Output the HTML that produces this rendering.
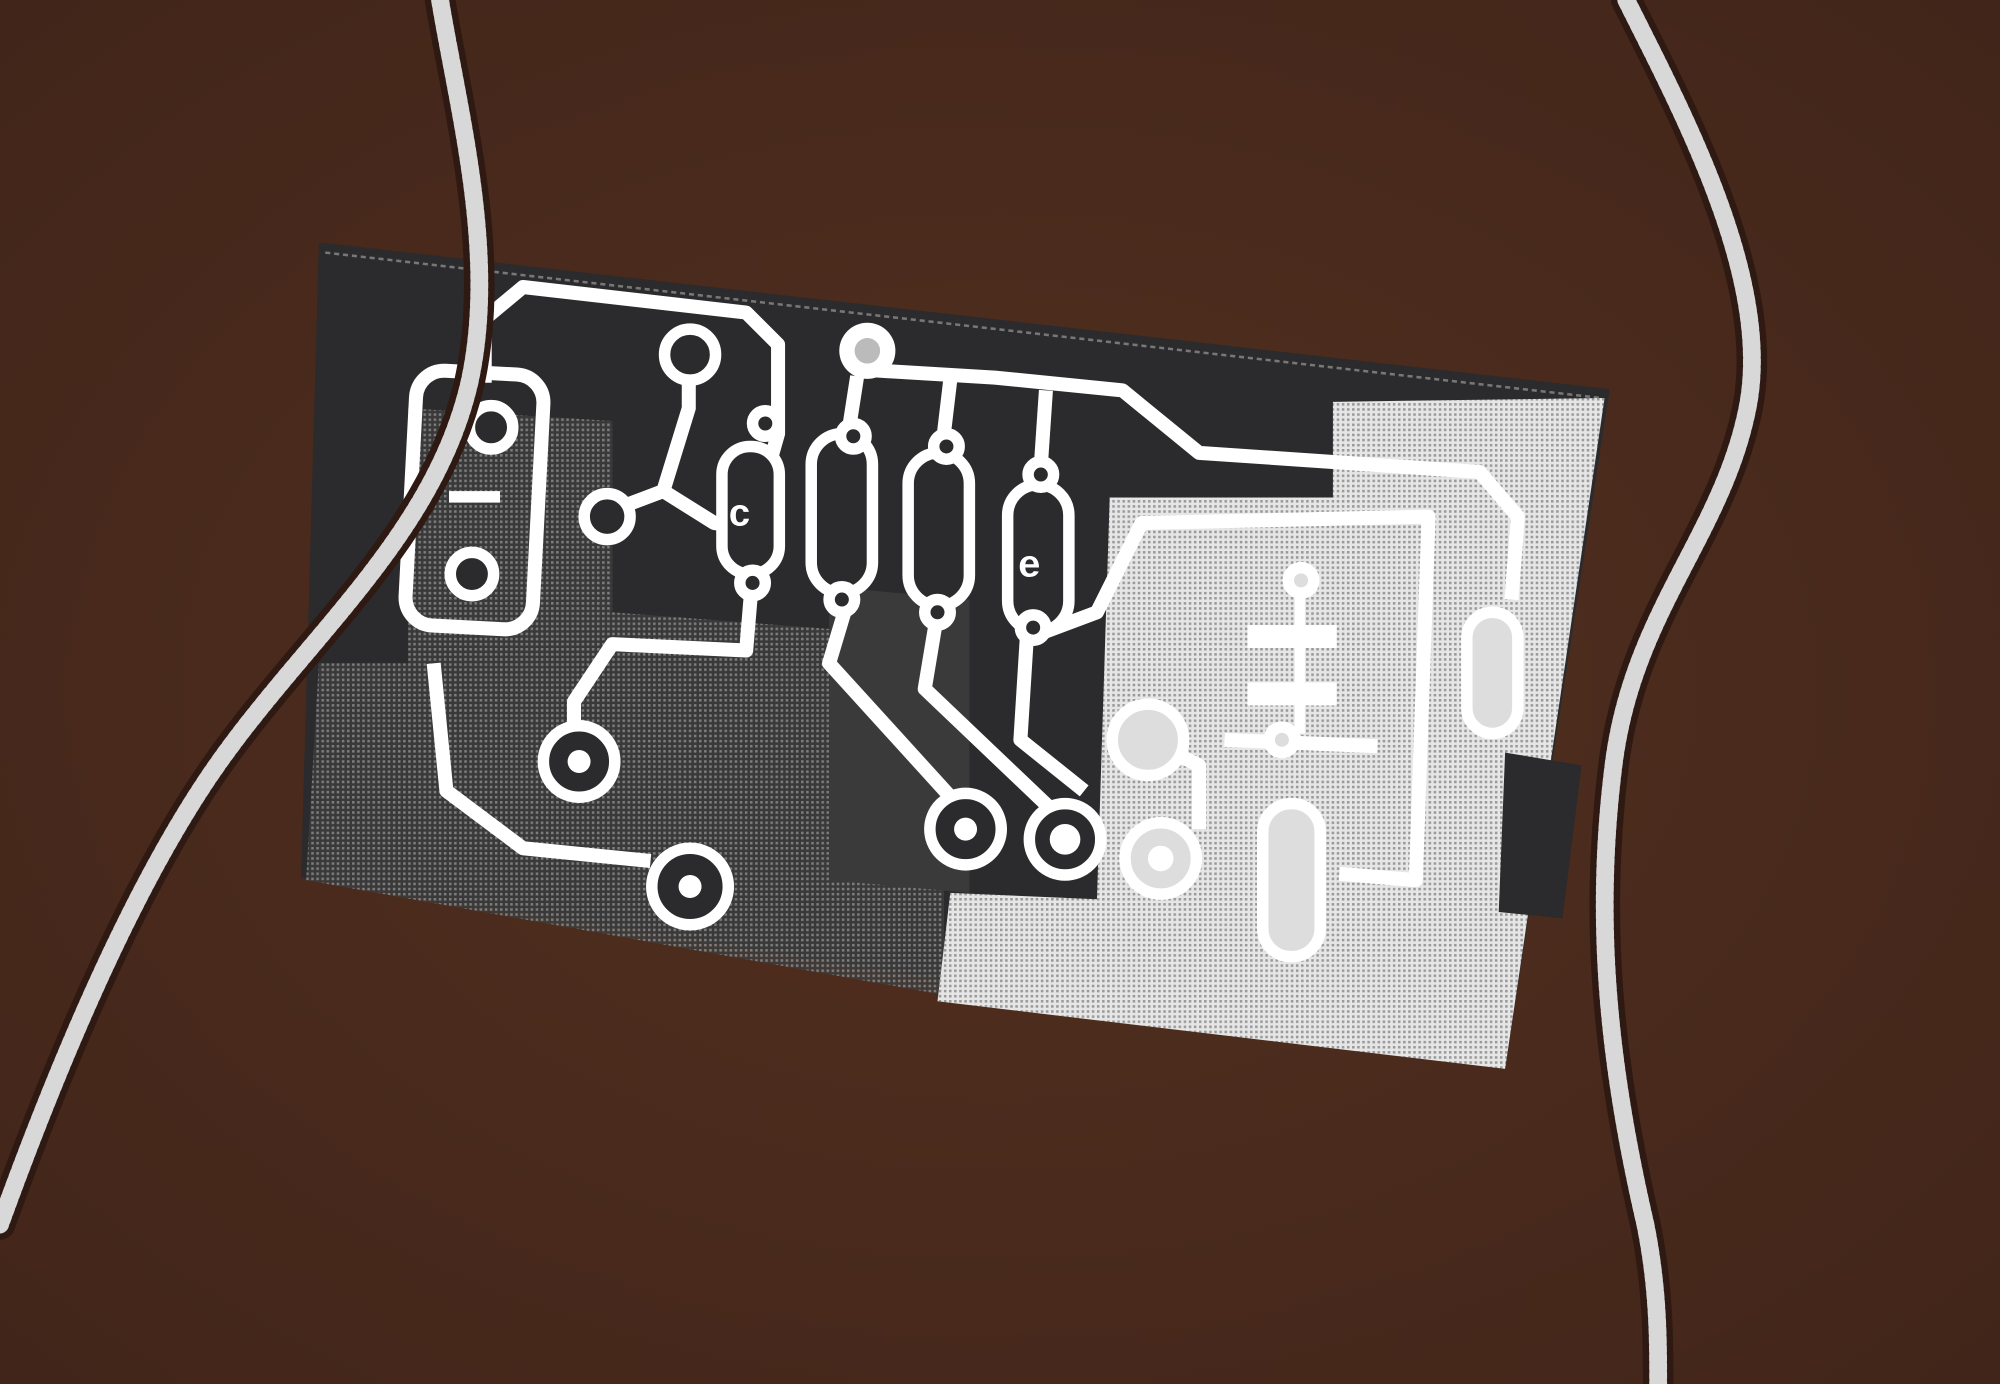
<!DOCTYPE html>
<html><head><meta charset="utf-8"><style>
html,body{margin:0;padding:0;background:#4a2b1d;}
svg{display:block;}
</style></head><body>
<svg width="2000" height="1384" viewBox="0 0 1568 1085" xmlns="http://www.w3.org/2000/svg">
<defs>
<radialGradient id="bg" cx="50%" cy="50%" r="70%">
<stop offset="0" stop-color="#52301f"/><stop offset="1" stop-color="#42251a"/>
</radialGradient>
<pattern id="dots" width="4" height="4" patternUnits="userSpaceOnUse"><rect width="4" height="4" fill="#3c3c3c"/><rect width="2" height="2" fill="#8a8a8a"/></pattern>
<pattern id="ldots" width="4" height="4" patternUnits="userSpaceOnUse"><rect width="4" height="4" fill="#e6e6e6"/><rect width="2" height="2" fill="#9a9a9a"/></pattern>
</defs>
<rect width="1568" height="1085" fill="url(#bg)"/>
<g>
<polygon points="250,190 1262,305 1180,838 236,688" fill="#2b2b2d"/>
<polyline points="255,198 1255,312" stroke="#777" stroke-width="2" stroke-dasharray="4,3" fill="none"/>
<polygon points="320,320 480,330 480,480 740,500 740,780 240,690 250,520 320,520" fill="url(#dots)" opacity="0.85"/>
<polygon points="650,460 760,470 760,700 650,690" fill="#3a3a3a"/>
<polygon points="1045,315 1258,312 1180,838 735,785 745,700 860,705 870,390 1045,390" fill="url(#ldots)"/>
<polygon points="1180,590 1240,600 1225,720 1175,715" fill="#2b2b2d"/>
<g stroke="#fff" stroke-width="11" fill="none" stroke-linejoin="round">
<path d="M380,300 L380,250 L410,225 L585,245 L610,270 L610,340 L600,375"/>
<rect x="322" y="292" width="100" height="200" rx="22" transform="rotate(3 372 392)"/>
<path d="M480,400 L520,385 L540,320 L540,300"/>
<path d="M520,385 L560,410 L575,412"/>
<path d="M590,450 L585,510 L480,505 L450,550 L450,580"/>
<path d="M680,290 L780,296 L880,306 L940,355 L1160,370 L1190,405 L1185,470"/>
<path d="M745,298 L740,340"/>
<path d="M820,306 L815,380"/>
<path d="M672,295 L665,340"/>
<path d="M665,470 L650,520 L750,630"/>
<path d="M735,480 L725,540 L830,640"/>
<path d="M810,490 L805,500 L800,580 L850,620"/>
<path d="M820,495 L860,480 L895,410 L1120,405 L1110,690 L1050,685"/>
<path d="M340,520 L350,620 L410,665 L510,675"/>
<path d="M920,590 L940,600 L940,650"/>
<path d="M960,580 L1080,585"/>
</g>
<g stroke="#fff" stroke-width="9" fill="#2b2b2d">
<rect x="566" y="350" width="45" height="100" rx="22"/>
<rect x="636" y="340" width="48" height="125" rx="24"/>
<rect x="712" y="355" width="48" height="120" rx="24"/>
<rect x="790" y="380" width="48" height="115" rx="24"/>
<circle cx="541" cy="278" r="20"/>
<circle cx="476" cy="405" r="18"/>
<circle cx="600" cy="332" r="10"/>
<circle cx="590" cy="457" r="10"/>
<circle cx="669" cy="342" r="10"/>
<circle cx="660" cy="470" r="10"/>
<circle cx="742" cy="350" r="10"/>
<circle cx="735" cy="480" r="10"/>
<circle cx="816" cy="372" r="10"/>
<circle cx="810" cy="492" r="10"/>
<circle cx="454" cy="597" r="28"/>
<circle cx="541" cy="695" r="30"/>
<circle cx="757" cy="650" r="28"/>
<circle cx="835" cy="658" r="28"/>
<circle cx="910" cy="673" r="28" fill="#ddd"/>
<circle cx="900" cy="580" r="28" fill="#ddd"/>
<rect x="1150" y="480" width="40" height="95" rx="20" fill="#ddd"/>
<rect x="990" y="630" width="45" height="120" rx="22" fill="#ddd"/>
<circle cx="1020" cy="455" r="10" fill="#ddd"/>
<circle cx="1005" cy="580" r="10" fill="#ddd"/>
</g>
<circle cx="680" cy="275" r="22" fill="#fff"/>
<circle cx="680" cy="275" r="10" fill="#bbb"/>
<circle cx="454" cy="597" r="9" fill="#fff"/>
<circle cx="541" cy="695" r="9" fill="#fff"/>
<circle cx="757" cy="650" r="9" fill="#fff"/>
<circle cx="835" cy="658" r="12" fill="#fff"/>
<circle cx="910" cy="673" r="10" fill="#fff"/>
<rect x="978" y="490" width="70" height="18" fill="#fff"/>
<rect x="978" y="535" width="70" height="18" fill="#fff"/>
<rect x="1015" y="465" width="8" height="110" fill="#fff"/>
<g stroke="#fff" stroke-width="9" fill="#2b2b2d">
<circle cx="385" cy="335" r="17"/>
<circle cx="370" cy="450" r="17"/>
</g>
<rect x="352" y="385" width="40" height="9" fill="#fff"/>
<text x="571" y="412" font-family="Liberation Mono, monospace" font-weight="bold" font-size="30" fill="#fff">c</text>
<text x="798" y="452" font-family="Liberation Mono, monospace" font-weight="bold" font-size="30" fill="#fff">e</text>
</g>
<g fill="none" stroke-linecap="round">
<path d="M345,0 C360,90 390,200 368,300 C340,420 240,500 170,600 C100,700 40,850 0,960" stroke="#2e1a12" stroke-width="24"/>
<path d="M345,0 C360,90 390,200 368,300 C340,420 240,500 170,600 C100,700 40,850 0,960" stroke="#d8d8d8" stroke-width="14" stroke-dasharray="4,3"/>
<path d="M1275,0 C1320,90 1390,220 1370,320 C1350,420 1280,480 1265,600 C1250,720 1260,830 1290,960 C1300,1010 1300,1050 1300,1085" stroke="#2e1a12" stroke-width="24"/>
<path d="M1275,0 C1320,90 1390,220 1370,320 C1350,420 1280,480 1265,600 C1250,720 1260,830 1290,960 C1300,1010 1300,1050 1300,1085" stroke="#d8d8d8" stroke-width="14" stroke-dasharray="4,3"/>
</g>
</svg>
</body></html>
